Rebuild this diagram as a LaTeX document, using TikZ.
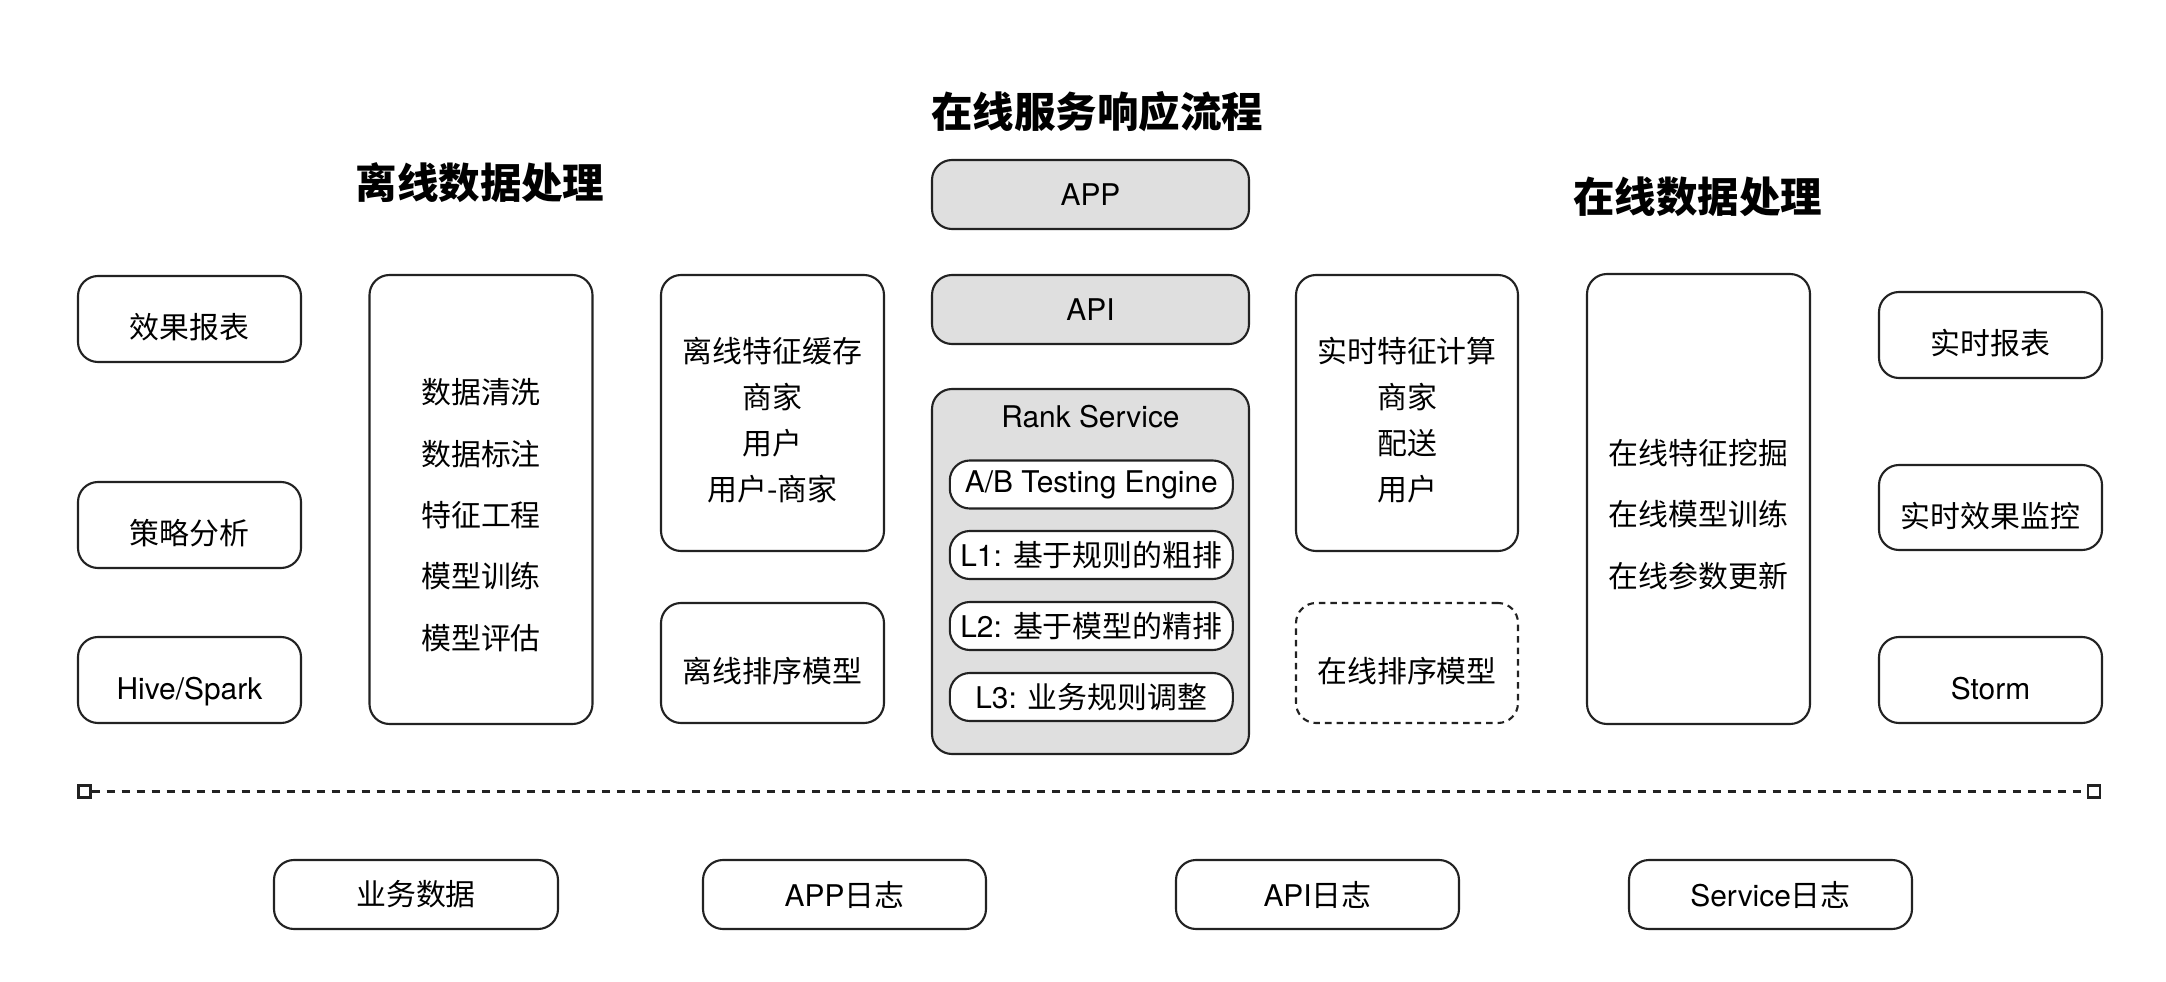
\documentclass[tikz,border=0pt]{standalone}
\usepackage{fontspec}
\setmainfont{TeX Gyre Heros}
\newfontfamily\cjk{Noto Sans CJK SC}
\newcommand{\zh}[1]{{\cjk #1}}
\newcommand{\bodyfnt}{\fontsize{8.5}{10}\selectfont}
\definecolor{strk}{HTML}{222222}
\definecolor{panel}{HTML}{DFDFDF}
\begin{document}
\begin{tikzpicture}[x=0.01cm,y=-0.01cm,
  box/.style={draw=strk, line width=0.6pt, rounded corners=0.2cm, inner sep=0pt, font=\bodyfnt, text=black},
  gbox/.style={box, fill=panel},
  wbox/.style={box, fill=white},
  dbox/.style={box, dash pattern=on 0.065cm off 0.05cm},
  low/.style={text height=0.42cm, text depth=0.03cm},
  sz/.style 2 args={minimum width=#1*0.01cm, minimum height=#2*0.01cm},
  ttl/.style={font=\cjk\bfseries\fontsize{11.8}{14}\selectfont, inner sep=0pt},
  txt/.style={font=\bodyfnt, inner sep=0pt, align=center},
  lines/.style={txt, font=\cjk\fontsize{8.5}{#1}\selectfont},
  sq/.style={draw=strk, line width=0.6pt, minimum size=0.12cm, inner sep=0pt, fill=white},
  sep/.style={draw=strk, line width=0.6pt, dash pattern=on 0.08cm off 0.07cm}
]
\useasboundingbox[fill=white] (0,0) rectangle (2166,982);

% titles
\node[ttl] (t1) at (480,183) {离线数据处理};
\node[ttl] (t2) at (1097,112) {在线服务响应流程};
\node[ttl] (t3) at (1697.5,197) {在线数据处理};

% left column
\node[box, low, sz={223}{86}] (xgbb) at (189.5,319) {\zh{效果报表}};
\node[box, low, sz={223}{86}] (clfx) at (189.5,525) {\zh{策略分析}};
\node[box, low, sz={223}{86}] (hive) at (189.5,680) {Hive/Spark};

% offline processing
\node[box, sz={223}{449}] (proc) at (481,499.5) {};
\node[lines=17.45pt] (proct) at (481,515) {数据清洗\\数据标注\\特征工程\\模型训练\\模型评估};

% offline feature cache
\node[box, sz={223}{276}] (cache) at (772.5,413) {};
\node[lines=13.1pt] (cachet) at (772.5,420) {离线特征缓存\\商家\\用户\\用户-商家};
\node[box, low, sz={223}{120}] (offm) at (772.5,663) {\zh{离线排序模型}};

% center service
\node[gbox, sz={317}{69}] (app) at (1090.5,194.5) {APP};
\node[gbox, sz={317}{69}] (api) at (1090.5,309.5) {API};
\node[gbox, sz={317}{365}] (rank) at (1090.5,571.5) {};
\node[txt] (rankt) at (1090.5,417) {Rank Service};
\node[wbox, sz={283}{48}] (ab) at (1091.3,484.5) {A/B Testing Engine};
\node[wbox, sz={283}{48}] (l1) at (1091.3,555) {L1: \zh{基于规则的粗排}};
\node[wbox, sz={283}{48}] (l2) at (1091.3,626) {L2: \zh{基于模型的精排}};
\node[wbox, sz={283}{48}] (l3) at (1091.3,697) {L3: \zh{业务规则调整}};

% realtime feature
\node[box, sz={222}{276}] (rt) at (1407,413) {};
\node[lines=13.1pt] (rtt) at (1407,420) {实时特征计算\\商家\\配送\\用户};
\node[dbox, low, sz={222}{120}] (onm) at (1407,663) {\zh{在线排序模型}};

% online processing
\node[box, sz={223}{450}] (onp) at (1698.5,499) {};
\node[lines=17.45pt] (onpt) at (1698.5,514.5) {在线特征挖掘\\在线模型训练\\在线参数更新};

% right column
\node[box, low, sz={223}{86}] (ssbb) at (1990.5,335) {\zh{实时报表}};
\node[box, low, sz={223}{85}] (ssjk) at (1990.5,507.5) {\zh{实时效果监控}};
\node[box, low, sz={223}{86}] (storm) at (1990.5,680) {Storm};

% separator
\node[sq] (ls) at (84.5,791.5) {};
\node[sq] (rs) at (2094,791.5) {};
\draw[sep] (ls.east) -- (rs.west);

% bottom sources
\node[box, sz={284}{69}] (ywsj) at (416,894.5) {\zh{业务数据}};
\node[box, sz={283}{69}] (applog) at (844.5,894.5) {APP\zh{日志}};
\node[box, sz={283}{69}] (apilog) at (1317.5,894.5) {API\zh{日志}};
\node[box, sz={283}{69}] (svclog) at (1770.5,894.5) {Service\zh{日志}};
\end{tikzpicture}
\end{document}
